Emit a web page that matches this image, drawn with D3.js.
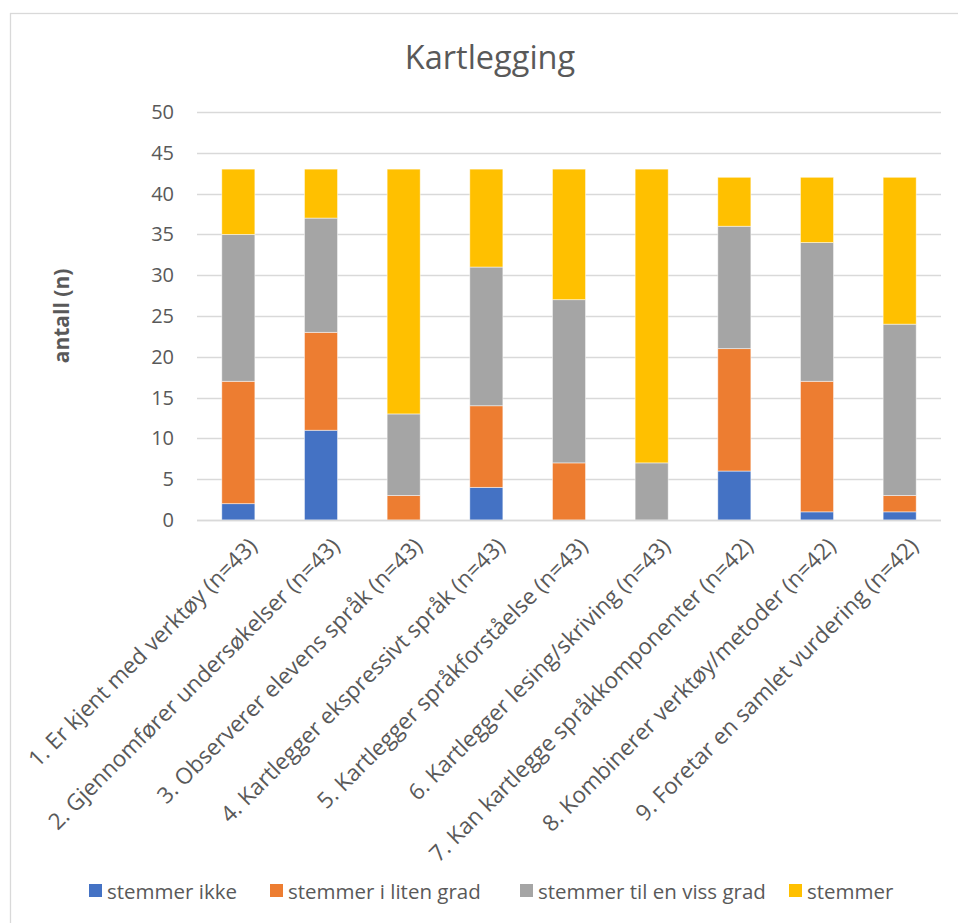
<!DOCTYPE html>
<html>
<head>
<meta charset="utf-8">
<script src="https://cdn.jsdelivr.net/npm/d3@7"></script>
<style>
  html, body { margin: 0; padding: 0; background: #fff; }
  svg { display: block; }
  text { font-family: "Open Sans", "Noto Sans", sans-serif; fill: #595959; }
</style>
</head>
<body>
<svg id="chart" width="958" height="923"></svg>
<script>
// Survey items (x-axis categories)
const categories = [
  "1. Er kjent med verktøy (n=43)",
  "2. Gjennomfører undersøkelser (n=43)",
  "3. Observerer elevens språk (n=43)",
  "4. Kartlegger ekspressivt språk (n=43)",
  "5. Kartlegger språkforståelse (n=43)",
  "6. Kartlegger lesing/skriving (n=43)",
  "7. Kan kartlegge språkkomponenter (n=42)",
  "8. Kombinerer verktøy/metoder (n=42)",
  "9. Foretar en samlet vurdering (n=42)"
];

// Response series (counts per item)
const seriesNames = ["stemmer ikke", "stemmer i liten grad", "stemmer til en viss grad", "stemmer"];
const stemmerIkke      = [2, 11, 0, 4, 0, 0, 6, 1, 1];
const stemmerLitenGrad = [15, 12, 3, 10, 7, 0, 15, 16, 2];
const stemmerVissGrad  = [18, 14, 10, 17, 20, 7, 15, 17, 21];
const stemmer          = [8, 6, 30, 12, 16, 36, 6, 8, 18];

const yTicks = [0, 5, 10, 15, 20, 25, 30, 35, 40, 45, 50];
const colors = ["#4472C4", "#ED7D31", "#A5A5A5", "#FFC000"];

const seriesValues = [stemmerIkke, stemmerLitenGrad, stemmerVissGrad, stemmer];
const rows = categories.map((c, i) => {
  const r = { cat: c };
  seriesNames.forEach((s, k) => r[s] = seriesValues[k][i]);
  return r;
});

const svg = d3.select("#chart");

// outer chart frame
svg.append("rect")
  .attr("x", 10.5).attr("y", 13.5)
  .attr("width", 960).attr("height", 930)
  .attr("fill", "none").attr("stroke", "#D9D9D9").attr("stroke-width", 1.3);

const plot = { left: 197, right: 941, top: 112, bottom: 520 };

const x = d3.scaleBand()
  .domain(categories)
  .range([plot.left, plot.right])
  .paddingInner(0.6).paddingOuter(0.3);

const y = d3.scaleLinear()
  .domain([0, 50])
  .range([plot.bottom, plot.top]);

// gridlines
svg.append("g")
  .selectAll("line")
  .data(yTicks)
  .join("line")
  .attr("x1", plot.left).attr("x2", plot.right)
  .attr("y1", d => Math.round(y(d)) + 0.5).attr("y2", d => Math.round(y(d)) + 0.5)
  .attr("stroke", "#D9D9D9").attr("stroke-width", 1.3);

// y axis labels
const yAxis = d3.axisLeft(y).tickValues(yTicks).tickSize(0).tickPadding(0);
svg.append("g")
  .attr("transform", `translate(${plot.left - 23},0)`)
  .call(yAxis)
  .call(g => g.select(".domain").remove())
  .selectAll("text")
  .style("font-size", "20px")
  .style("font-family", "'Open Sans', sans-serif")
  .attr("fill", "#595959");

// stacked bars
const stack = d3.stack().keys(seriesNames);
const stacked = stack(rows);

svg.append("g")
  .selectAll("g")
  .data(stacked)
  .join("g")
  .attr("fill", (d, i) => colors[i])
  .selectAll("rect")
  .data(d => d)
  .join("rect")
  .attr("x", d => x(d.data.cat))
  .attr("width", x.bandwidth())
  .attr("y", d => y(d[1]))
  .attr("height", d => y(d[0]) - y(d[1]))
  .attr("stroke", "#ffffff")
  .attr("stroke-opacity", 0.6)
  .attr("stroke-width", d => (d[1] - d[0]) > 0 ? 0.8 : 0);

// baseline
svg.append("line")
  .attr("x1", plot.left).attr("x2", plot.right)
  .attr("y1", plot.bottom + 0.5).attr("y2", plot.bottom + 0.5)
  .attr("stroke", "#D9D9D9").attr("stroke-width", 1.3);

// category labels, rotated
const xAxis = d3.axisBottom(x).tickSize(0).tickPadding(0);
svg.append("g")
  .attr("transform", `translate(0,${plot.bottom})`)
  .call(xAxis)
  .call(g => g.select(".domain").remove())
  .selectAll("text")
  .style("font-size", "22.5px")
  .style("font-family", "'Open Sans', sans-serif")
  .attr("fill", "#595959")
  .attr("text-anchor", "end")
  .attr("dy", "0.35em")
  .attr("y", 0)
  .attr("transform", d => `translate(${x.bandwidth() / 2 - 2},22) rotate(-45)`);

// title
svg.append("text")
  .attr("x", 490).attr("y", 69)
  .attr("text-anchor", "middle")
  .style("font-size", "32.5px")
  .text("Kartlegging");

// y axis title
svg.append("text")
  .attr("transform", `translate(69,${(plot.top + plot.bottom) / 2}) rotate(-90)`)
  .attr("text-anchor", "middle")
  .style("font-size", "21px")
  .style("font-weight", "bold")
  .text("antall (n)");

// legend
const legendX = [89, 270, 520, 789];
const legend = svg.append("g");
seriesNames.forEach((s, i) => {
  const g = legend.append("g").attr("transform", `translate(${legendX[i]},884)`);
  g.append("rect").attr("width", 13).attr("height", 13).attr("fill", colors[i]);
  g.append("text")
    .attr("x", 18).attr("y", 15)
    .style("font-size", "20.5px")
    .text(s);
});
</script>
</body>
</html>
